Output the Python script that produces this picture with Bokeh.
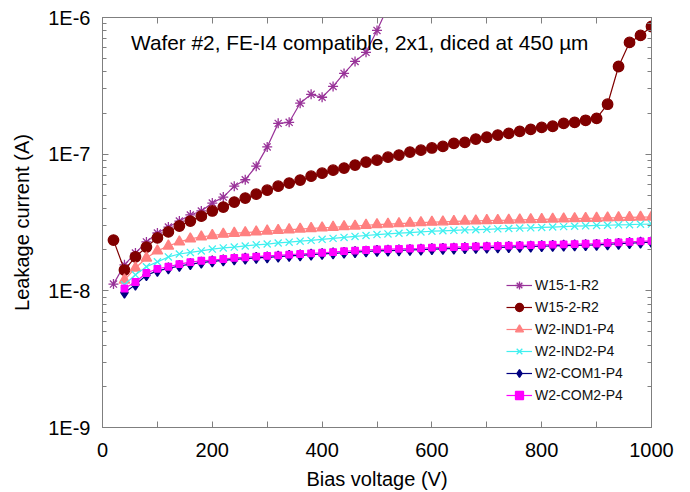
from bokeh.plotting import figure
from bokeh.models import (Label, Legend, LegendItem, LinearAxis, LogAxis, FixedTicker,
                          CustomJSTickFormatter, Range1d)
from bokeh.embed import file_html
from bokeh.resources import INLINE

# ---------------- data ----------------
bias_w15_1 = [20, 40, 60, 80, 100, 120, 140, 160, 180, 200, 220, 240, 260, 280, 300,
              320, 340, 360, 380, 400, 420, 440, 460, 480, 500, 520]
w15_1_r2 = [1.12e-8, 1.55e-8, 1.89e-8, 2.28e-8, 2.65e-8, 2.93e-8, 3.24e-8, 3.59e-8, 3.84e-8,
            4.39e-8, 4.85e-8, 5.83e-8, 6.50e-8, 8.17e-8, 1.13e-7, 1.68e-7, 1.71e-7, 2.36e-7,
            2.74e-7, 2.61e-7, 3.13e-7, 3.90e-7, 4.77e-7, 5.56e-7, 8.04e-7, 1.20e-6]

bias_w15_2 = [20, 40, 60, 80, 100, 120, 140, 160, 180, 200, 220, 240, 260, 280, 300, 320, 340,
              360, 380, 400, 420, 440, 460, 480, 500, 520, 540, 560, 580, 600, 620, 640, 660,
              680, 700, 720, 740, 760, 780, 800, 820, 840, 860, 880, 900, 920, 940, 960, 980, 1000]
w15_2_r2 = [2.35e-8, 1.42e-8, 1.77e-8, 2.09e-8, 2.44e-8, 2.70e-8, 2.98e-8, 3.24e-8, 3.52e-8, 3.84e-8,
            4.10e-8, 4.46e-8, 4.77e-8, 5.10e-8, 5.45e-8, 5.83e-8, 6.14e-8, 6.46e-8, 6.90e-8, 7.26e-8,
            7.64e-8, 7.91e-8, 8.32e-8, 8.75e-8, 9.04e-8, 9.51e-8, 9.84e-8, 1.035e-7, 1.07e-7, 1.11e-7,
            1.14e-7, 1.20e-7, 1.22e-7, 1.29e-7, 1.33e-7, 1.38e-7, 1.42e-7, 1.47e-7, 1.52e-7, 1.57e-7,
            1.60e-7, 1.68e-7, 1.71e-7, 1.77e-7, 1.83e-7, 2.32e-7, 4.38e-7, 6.57e-7, 7.39e-7, 8.59e-7]

bias_w2 = [40, 60, 80, 100, 120, 140, 160, 180, 200, 220, 240, 260, 280, 300, 320, 340, 360,
           380, 400, 420, 440, 460, 480, 500, 520, 540, 560, 580, 600, 620, 640, 660, 680, 700,
           720, 740, 760, 780, 800, 820, 840, 860, 880, 900, 920, 940, 960, 980, 1000]
w2_ind1_p4 = [1.20e-8, 1.47e-8, 1.74e-8, 1.96e-8, 2.13e-8, 2.28e-8, 2.40e-8, 2.48e-8, 2.54e-8, 2.60e-8,
              2.64e-8, 2.67e-8, 2.70e-8, 2.74e-8, 2.77e-8, 2.80e-8, 2.83e-8, 2.86e-8, 2.89e-8, 2.92e-8,
              2.95e-8, 2.98e-8, 3.02e-8, 3.05e-8, 3.08e-8, 3.10e-8, 3.13e-8, 3.16e-8, 3.18e-8, 3.20e-8,
              3.22e-8, 3.24e-8, 3.25e-8, 3.27e-8, 3.28e-8, 3.29e-8, 3.31e-8, 3.32e-8, 3.33e-8, 3.35e-8,
              3.36e-8, 3.38e-8, 3.39e-8, 3.40e-8, 3.42e-8, 3.43e-8, 3.45e-8, 3.46e-8, 3.47e-8]
w2_ind2_p4 = [1.11e-8, 1.31e-8, 1.50e-8, 1.63e-8, 1.77e-8, 1.86e-8, 1.91e-8, 1.96e-8, 2.02e-8, 2.06e-8,
              2.09e-8, 2.13e-8, 2.17e-8, 2.20e-8, 2.24e-8, 2.27e-8, 2.31e-8, 2.34e-8, 2.38e-8, 2.42e-8,
              2.46e-8, 2.50e-8, 2.54e-8, 2.58e-8, 2.61e-8, 2.64e-8, 2.67e-8, 2.70e-8, 2.73e-8, 2.75e-8,
              2.77e-8, 2.79e-8, 2.80e-8, 2.82e-8, 2.84e-8, 2.86e-8, 2.88e-8, 2.89e-8, 2.91e-8, 2.93e-8,
              2.95e-8, 2.97e-8, 2.99e-8, 3.01e-8, 3.02e-8, 3.04e-8, 3.05e-8, 3.07e-8, 3.08e-8]
w2_com1_p4 = [0.97e-8, 1.11e-8, 1.30e-8, 1.40e-8, 1.46e-8, 1.52e-8, 1.57e-8, 1.61e-8, 1.64e-8, 1.67e-8,
              1.70e-8, 1.72e-8, 1.74e-8, 1.76e-8, 1.78e-8, 1.80e-8, 1.82e-8, 1.84e-8, 1.86e-8, 1.88e-8,
              1.90e-8, 1.92e-8, 1.94e-8, 1.96e-8, 1.97e-8, 1.98e-8, 1.99e-8, 2.00e-8, 2.02e-8, 2.03e-8,
              2.04e-8, 2.05e-8, 2.06e-8, 2.07e-8, 2.08e-8, 2.09e-8, 2.10e-8, 2.11e-8, 2.12e-8, 2.13e-8,
              2.14e-8, 2.15e-8, 2.16e-8, 2.17e-8, 2.19e-8, 2.21e-8, 2.23e-8, 2.25e-8, 2.27e-8]
w2_com2_p4 = [1.04e-8, 1.16e-8, 1.35e-8, 1.45e-8, 1.50e-8, 1.57e-8, 1.62e-8, 1.66e-8, 1.68e-8, 1.71e-8,
              1.74e-8, 1.76e-8, 1.78e-8, 1.80e-8, 1.82e-8, 1.84e-8, 1.86e-8, 1.88e-8, 1.90e-8, 1.92e-8,
              1.95e-8, 1.97e-8, 1.99e-8, 2.01e-8, 2.02e-8, 2.03e-8, 2.04e-8, 2.05e-8, 2.07e-8, 2.08e-8,
              2.09e-8, 2.10e-8, 2.11e-8, 2.12e-8, 2.13e-8, 2.14e-8, 2.15e-8, 2.16e-8, 2.17e-8, 2.18e-8,
              2.19e-8, 2.20e-8, 2.21e-8, 2.22e-8, 2.24e-8, 2.26e-8, 2.28e-8, 2.30e-8, 2.32e-8]

x_major_ticks = [0, 200, 400, 600, 800, 1000]
x_minor_ticks = [100, 300, 500, 700, 900]
y_major_ticks = [1e-9, 1e-8, 1e-7, 1e-6]
y_minor_ticks = [m * d for d in (1e-9, 1e-8, 1e-7) for m in (2, 3, 4, 5, 6, 7, 8, 9)]

title_text = "Wafer #2, FE-I4 compatible, 2x1, diced at 450 \u00b5m"

# ---------------- figure ----------------
FONT = "Liberation Sans"
AXIS_GRAY = "#7f7f7f"

p = figure(width=690, height=492, x_range=Range1d(0, 1000), y_range=Range1d(1e-9, 1e-6),
           y_axis_type="log", output_backend="svg", toolbar_location=None,
           min_border_left=102, min_border_right=39, min_border_top=17, min_border_bottom=64)
p.xgrid.visible = False
p.ygrid.visible = False
p.outline_line_color = AXIS_GRAY
p.background_fill_color = "white"
p.border_fill_color = "white"

series = [
    ("W15-1-R2", bias_w15_1, w15_1_r2, "#993399", "asterisk", 10),
    ("W15-2-R2", bias_w15_2, w15_2_r2, "#800000", "circle", 10.5),
    ("W2-IND1-P4", bias_w2, w2_ind1_p4, "#FF8080", "triangle", 10.5),
    ("W2-IND2-P4", bias_w2, w2_ind2_p4, "#40F0F0", "x", 10),
    ("W2-COM1-P4", bias_w2, w2_com1_p4, "#000080", "diamond", 11),
    ("W2-COM2-P4", bias_w2, w2_com2_p4, "#FF00FF", "square", 6.5),
]

items = []
for name, xs, ys, color, marker, size in series:
    ln = p.line(xs, ys, line_color=color, line_width=1.2)
    sc = p.scatter(xs, ys, marker=marker, size=size, line_color=color, fill_color=color,
                   line_width=1.3)
    items.append(LegendItem(label=name, renderers=[ln, sc]))

legend = Legend(items=items, location=(404, 22), padding=0, margin=0,
                background_fill_alpha=0, border_line_color=None,
                label_text_font=FONT, label_text_font_size="14px", label_text_color="#111111",
                glyph_width=26, glyph_height=20, label_height=20, spacing=2, label_standoff=3)
p.add_layout(legend)

# ---------------- axes ----------------
def style_axis(ax):
    ax.axis_line_color = AXIS_GRAY
    ax.major_tick_line_color = AXIS_GRAY
    ax.minor_tick_line_color = AXIS_GRAY
    ax.major_tick_in = 6
    ax.major_tick_out = 0
    ax.minor_tick_in = 4
    ax.minor_tick_out = 0
    ax.major_label_text_font = FONT
    ax.major_label_text_font_size = "20px"
    ax.major_label_text_color = "black"
    ax.axis_label_text_font = FONT
    ax.axis_label_text_font_size = "20px"
    ax.axis_label_text_font_style = "normal"
    ax.axis_label_text_color = "black"

xticker = FixedTicker(ticks=x_major_ticks, minor_ticks=x_minor_ticks)
yticker = FixedTicker(ticks=y_major_ticks, minor_ticks=y_minor_ticks)
yfmt = CustomJSTickFormatter(code="return '1E' + Math.round(Math.log10(tick));")

xa = p.xaxis[0]
xa.ticker = xticker
style_axis(xa)
xa.minor_tick_in = 6
xa.axis_label = "Bias voltage (V)"
xa.major_label_standoff = 15
xa.axis_label_standoff = 8

ya = p.yaxis[0]
ya.ticker = yticker
ya.formatter = yfmt
style_axis(ya)
ya.axis_label = "Leakage current (A)"
ya.major_label_standoff = 12
ya.axis_label_standoff = 12

top = LinearAxis(ticker=xticker)
style_axis(top)
top.minor_tick_in = 6
top.major_label_text_font_size = "10px"
top.major_label_standoff = 0
top.major_label_text_alpha = 0
p.add_layout(top, "above")

right = LogAxis(ticker=yticker)
style_axis(right)
right.major_label_text_font_size = "10px"
right.major_label_standoff = 0
right.major_label_text_alpha = 0
p.add_layout(right, "right")

p.add_layout(Label(x=52, y=6.6e-7, text=title_text, text_font=FONT, text_font_size="20.8px",
                   text_color="black", text_baseline="alphabetic"))

open("out.html", "w").write(file_html(p, INLINE))
